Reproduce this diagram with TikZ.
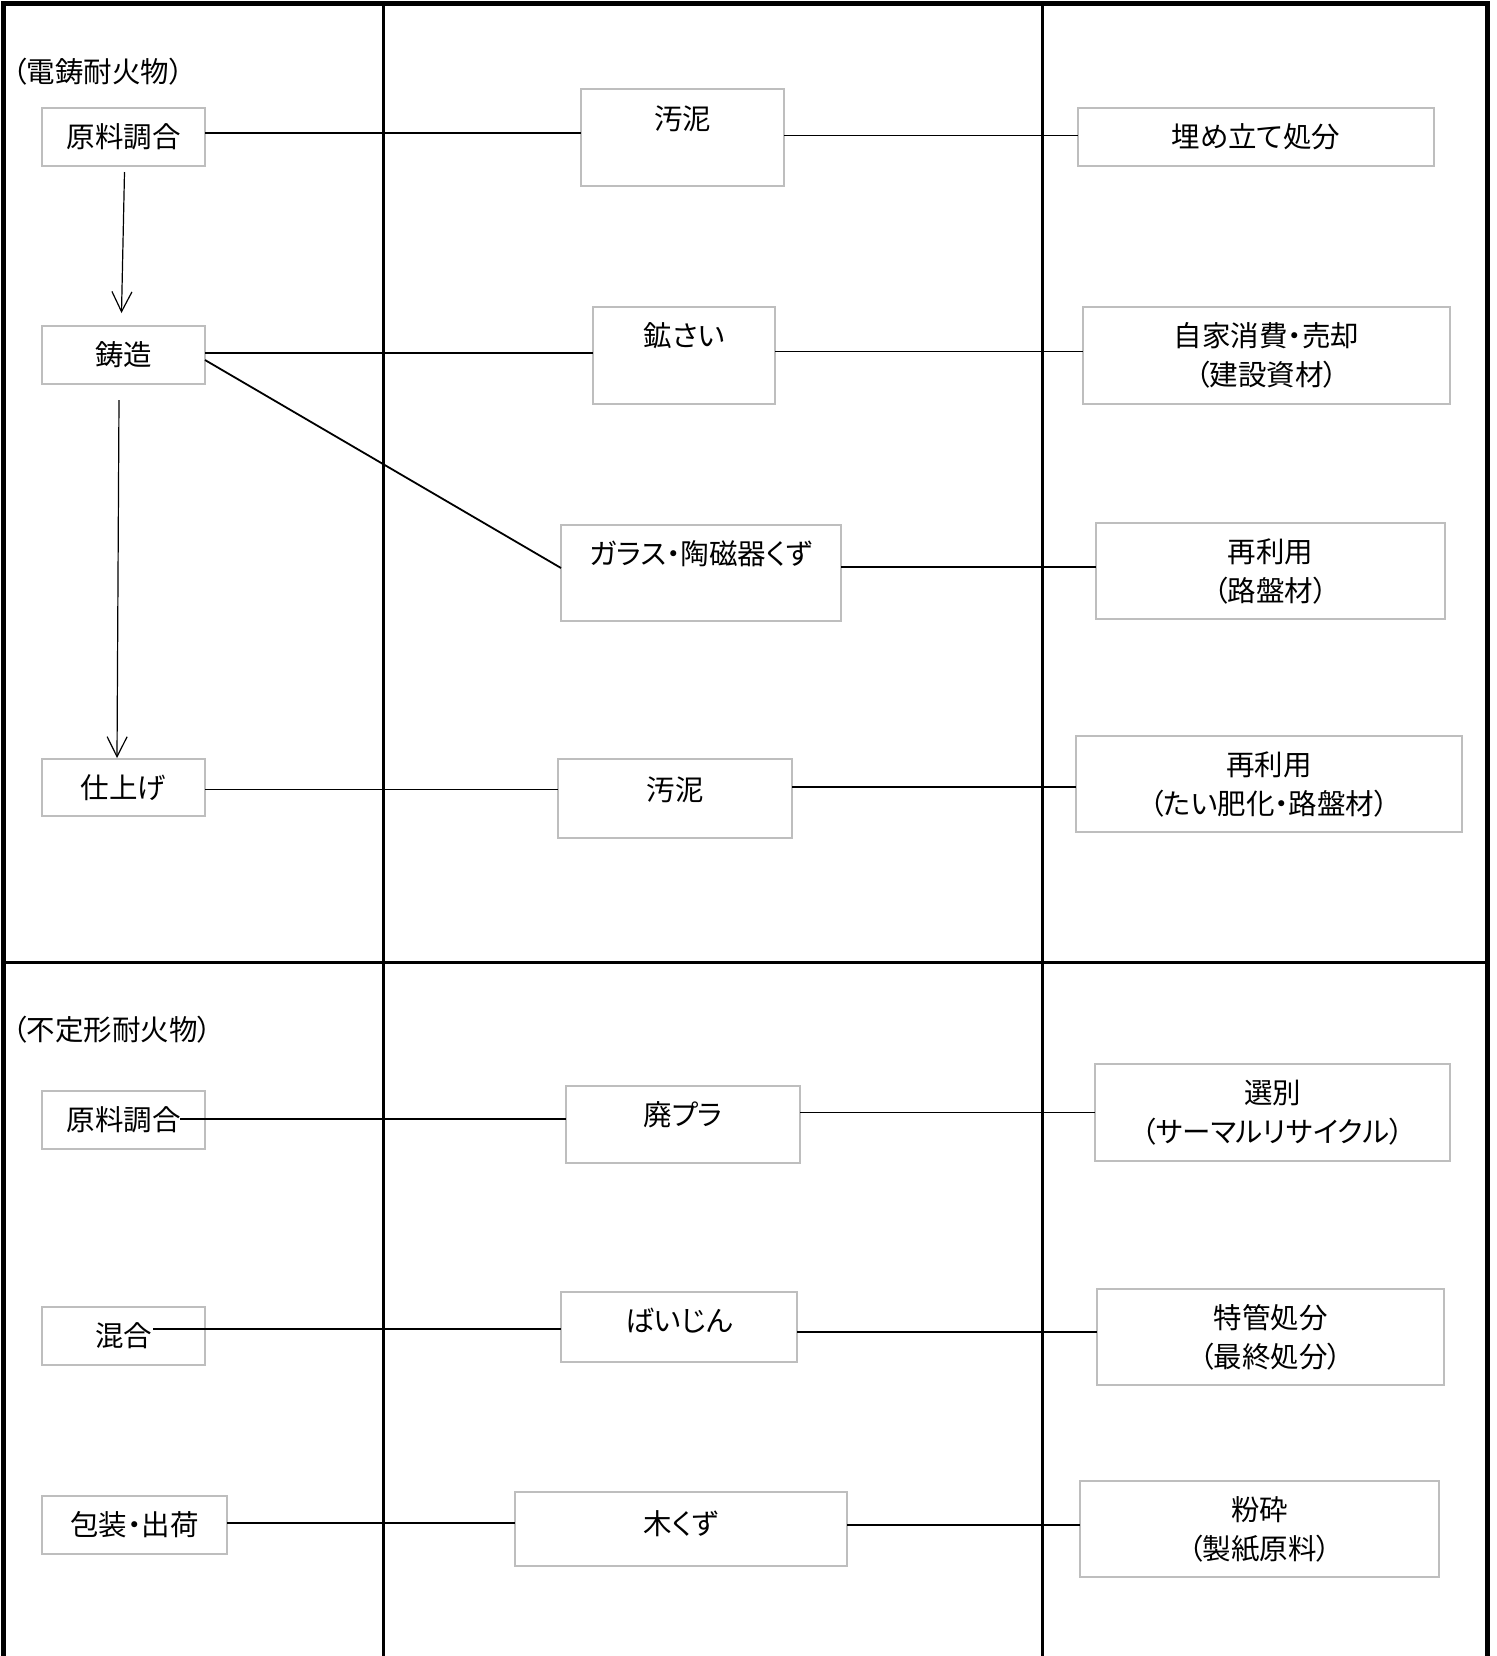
\documentclass[tikz,border=0pt]{standalone}
\usepackage{fontspec}
\setmainfont{Noto Sans CJK JP}[RawFeature=+palt]
\usepackage{tikz}
\usetikzlibrary{positioning,calc,arrows.meta}
\definecolor{BoxGray}{RGB}{190,190,190}
\newcommand{\boxfont}{\fontsize{14.25pt}{19.5pt}\selectfont}
\tikzset{%
  stage/.style={%
    draw=BoxGray, line width=0.6pt, inner sep=0pt, outer sep=0pt,
    minimum width=81.5pt, minimum height=29pt,
    text height=10.8pt, text depth=0pt
  },
  waste/.style={%
    draw=BoxGray, line width=0.6pt, inner sep=0pt, outer sep=0pt,
    text height=10.8pt, text depth=#1
  },
  route/.style={%
    draw=BoxGray, line width=0.6pt, inner sep=0pt, outer sep=0pt,
    align=center
  },
  link/.style={line width=0.9pt},
  arrow/.style={line width=0.6pt,-{Straight Barb[length=10pt,width=10pt]}},
  frame/.style={line width=2.5pt, line join=miter},
  divider/.style={line width=1.5pt},
  heading/.style={anchor=west, inner sep=0pt}
}

\begin{document}
\begin{tikzpicture}[x=0.5pt, y=-0.5pt, every node/.append style={font=\boxfont}]
    \useasboundingbox (0,0) rectangle (1496,1656);

    % frame and columns
    \draw[frame] (3.5,1656) -- (3.5,3.5) -- (1487.5,3.5) -- (1487.5,1656);
    \draw[divider] (383.5,3.5) -- (383.5,1656);
    \draw[divider] (1042.5,3.5) -- (1042.5,1656);
    \draw[divider] (3.5,962.5) -- (1487.5,962.5);

    % electrocast refractories
    \node (TITLE1)[heading] at (12,72) {（電鋳耐火物）};
    \node (GEN1)[stage] at (123.5,137) {原料調合};
    \node (CHUZO)[stage] at (123.5,355) {鋳造};
    \node (SHIAGE)[stage, minimum height=28.5pt] at (123.5,787.5) {仕上げ};

    \node (ODEI1)[waste=18.5pt, minimum width=101.5pt, minimum height=48.5pt] at (682.5,137.5) {汚泥};
    \node (KOUSAI)[waste=19.5pt, minimum width=91pt, minimum height=48.5pt] at (684,355.5) {鉱さい};
    \node (GLASS)[waste=19pt, minimum width=140pt, minimum height=48pt] at (701,573) {ガラス・陶磁器くず};
    \node (ODEI2)[waste=8.5pt, minimum width=117pt, minimum height=39.5pt] at (675,798.5) {汚泥};

    \node (UMETATE)[route, minimum width=178pt, minimum height=29pt] at (1256,137) {埋め立て処分};
    \node (JIKA)[route, minimum width=183.5pt, minimum height=48.5pt] at (1266.5,355.5) {自家消費・売却\\（建設資材）};
    \node (SAIRIYO1)[route, minimum width=174.5pt, minimum height=48pt] at (1270.5,571) {再利用\\（路盤材）};
    \node (SAIRIYO2)[route, minimum width=193pt, minimum height=48pt] at (1269,784) {再利用\\（たい肥化・路盤材）};

    % monolithic refractories
    \node (TITLE2)[heading] at (12,1030) {（不定形耐火物）};
    \node (GEN2)[stage] at (123.5,1120) {原料調合};
    \node (KONGO)[stage] at (123.5,1336) {混合};
    \node (HOSO)[stage, minimum width=92.5pt] at (134.5,1525) {包装・出荷};

    \node (HAIPURA)[waste=9.5pt, minimum width=117pt, minimum height=38.5pt] at (683,1124.5) {廃プラ};
    \node (BAIJIN)[waste=6pt, minimum width=118pt, minimum height=35pt] at (679,1327) {ばいじん};
    \node (KIKUZU)[waste=5pt, minimum width=166pt, minimum height=37pt] at (681,1529) {木くず};

    \node (SENBETSU)[route, minimum width=177.5pt, minimum height=48.5pt] at (1272.5,1112.5) {選別\\（サーマルリサイクル）};
    \node (TOKKAN)[route, minimum width=173.5pt, minimum height=48pt] at (1270.5,1337) {特管処分\\（最終処分）};
    \node (FUNSAI)[route, minimum width=179.5pt, minimum height=48pt] at (1259.5,1529) {粉砕\\（製紙原料）};

    \coordinate (GEN2IN) at (180,1119);
    \coordinate (KONGOIN) at (153,1329);

    \draw[arrow] ([xshift=0.5pt,yshift=-3pt]GEN1.south) -- ([xshift=-1pt,yshift=6.5pt]CHUZO.north);
    \draw[arrow] ([xshift=-2.25pt,yshift=-8pt]CHUZO.south) -- ([xshift=-3.25pt,yshift=0.5pt]SHIAGE.north);

    \path[link]
        ([yshift=2pt]GEN1.east) edge ([yshift=2pt]GEN1.east -| ODEI1.west)
        ([yshift=1pt]ODEI1.east) edge ([yshift=1pt]ODEI1.east -| UMETATE.west)
        ([yshift=1pt]CHUZO.east) edge ([yshift=1pt]CHUZO.east -| KOUSAI.west)
        ([yshift=2pt]KOUSAI.east) edge ([yshift=2pt]KOUSAI.east -| JIKA.west)
        ([yshift=-2.5pt]CHUZO.east) edge ([yshift=2.5pt]GLASS.west)
        ([yshift=3pt]GLASS.east) edge ([yshift=3pt]GLASS.east -| SAIRIYO1.west)
        ([yshift=-1pt]SHIAGE.east) edge ([yshift=-1pt]SHIAGE.east -| ODEI2.west)
        ([yshift=5.75pt]ODEI2.east) edge ([yshift=5.75pt]ODEI2.east -| SAIRIYO2.west)
        (GEN2IN) edge (GEN2IN -| HAIPURA.west)
        (SENBETSU.west -| HAIPURA.east) edge (SENBETSU.west)
        (KONGOIN) edge (KONGOIN -| BAIJIN.west)
        ([yshift=-2.5pt]BAIJIN.east) edge ([yshift=-2.5pt]BAIJIN.east -| TOKKAN.west)
        ([yshift=1pt]HOSO.east) edge ([yshift=1pt]HOSO.east -| KIKUZU.west)
        ([yshift=2pt]KIKUZU.east) edge ([yshift=2pt]KIKUZU.east -| FUNSAI.west)
    ;
\end{tikzpicture}
\end{document}
